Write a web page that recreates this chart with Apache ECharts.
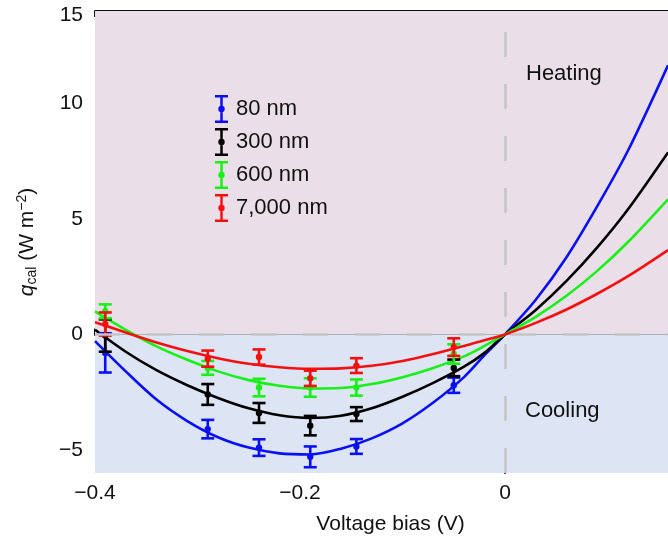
<!DOCTYPE html>
<html><head><meta charset="utf-8">
<script src="https://cdn.jsdelivr.net/npm/echarts@6/dist/echarts.min.js"></script>
<style>html,body{margin:0;padding:0;background:#fff}#c{width:668px;height:540px}</style>
</head><body><div id="c"></div>
<script>
// ---- data ----
const seriesNames = ['80 nm', '300 nm', '600 nm', '7,000 nm'];
const seriesColors = ['#0a10f5', '#000000', '#18f018', '#f51010'];

// fitted curves
const fitX     = [-0.4, -0.37, -0.34, -0.31, -0.28, -0.25, -0.22, -0.19, -0.16, -0.13, -0.1, -0.07, -0.04, -0.02, 0, 0.03, 0.06, 0.09, 0.12, 0.159];
const fitBlue  = [-0.29, -1.6, -2.82, -3.75, -4.45, -4.9, -5.15, -5.2, -4.95, -4.5, -3.85, -2.95, -1.85, -0.9, 0, 1.5, 3.34, 5.55, 7.96, 11.65];
const fitBlack = [0.2, -0.75, -1.55, -2.2, -2.75, -3.2, -3.5, -3.62, -3.52, -3.2, -2.7, -2.1, -1.4, -0.8, 0, 1.06, 2.32, 3.77, 5.42, 7.88];
const fitGreen = [1.0, 0.2, -0.52, -1.1, -1.6, -1.98, -2.22, -2.34, -2.32, -2.15, -1.85, -1.45, -0.95, -0.5, 0, 0.76, 1.67, 2.75, 4.0, 5.85];
const fitRed   = [0.53, 0.08, -0.35, -0.72, -1.03, -1.27, -1.42, -1.49, -1.47, -1.36, -1.15, -0.85, -0.5, -0.25, 0, 0.5, 1.08, 1.76, 2.52, 3.65];

// measured points with error bars
const ptX      = [-0.39, -0.29, -0.24, -0.19, -0.145, -0.05];
const ptBlue   = [-0.8, -4.1, -4.9, -5.3, -4.85, -2.2];
const errBlue  = [0.85, 0.4, 0.36, 0.45, 0.32, 0.33];
const ptBlack  = [-0.05, -2.6, -3.4, -3.95, -3.45, -1.45];
const errBlack = [0.7, 0.45, 0.43, 0.42, 0.3, 0.36];
const ptGreen  = [1.0, -1.45, -2.3, -2.3, -2.3, -0.85];
const errGreen = [0.3, 0.3, 0.38, 0.4, 0.35, 0.42];
const ptRed    = [0.45, -1.05, -0.98, -1.9, -1.35, -0.55];
const errRed   = [0.5, 0.35, 0.33, 0.33, 0.32, 0.38];

// axes
const xMin = -0.4, xMax = 0.159, yMin = -6, yMax = 14;
const xTickValues = [-0.4, -0.2, 0];
const xTickLabels = ['\u22120.4', '\u22120.2', '0'];
const yTickValues = [-5, 0, 5, 10];
const yLabelValues = [-5, 0, 5, 10, 14];
const yTickLabels = ['\u22125', '0', '5', '10', '15'];

// ---- chart ----
const FONT = 'Liberation Sans, Arial, Helvetica, sans-serif';
const fits = [fitBlue, fitBlack, fitGreen, fitRed];
const pts = [ptBlue, ptBlack, ptGreen, ptRed];
const errs = [errBlue, errBlack, errGreen, errRed];

const iconPath = 'path://M0,0H13V2.6H0Z M5.25,0H7.75V28H5.25Z M0,25.4H13V28H0Z M3.3,14A3.2,3.2 0 1 1 9.7,14A3.2,3.2 0 1 1 3.3,14Z';

function renderErr(params, api) {
  const x = api.value(0), y = api.value(1), e = api.value(2);
  const t = api.coord([x, y + e]), b = api.coord([x, y - e]), m = api.coord([x, y]);
  const w = 6.5;
  const c = api.visual('color');
  const st = { stroke: c, lineWidth: 2.6, fill: null };
  return { type: 'group', children: [
    { type: 'line', shape: { x1: t[0], y1: t[1], x2: b[0], y2: b[1] }, style: st },
    { type: 'line', shape: { x1: t[0] - w, y1: t[1], x2: t[0] + w, y2: t[1] }, style: st },
    { type: 'line', shape: { x1: b[0] - w, y1: b[1], x2: b[0] + w, y2: b[1] }, style: st },
    { type: 'circle', shape: { cx: m[0], cy: m[1], r: 3.2 }, style: { fill: c } }
  ]};
}

const series = [{
  type: 'line', data: [], silent: true, z: 0,
  markArea: { silent: true, data: [
    [{ yAxis: 0, itemStyle: { color: '#eadfe8' } }, { yAxis: yMax }],
    [{ yAxis: yMin, itemStyle: { color: '#dde4f4' } }, { yAxis: 0 }]
  ]},
  markLine: { silent: true, symbol: 'none', label: { show: false },
    lineStyle: { color: '#c4c4c4', width: 2.5, type: [25, 27] },
    data: [{ yAxis: 0 }, { xAxis: 0 }] }
}];
seriesNames.forEach((n, i) => {
  series.push({
    name: n, type: 'line', smooth: 0.3, showSymbol: false, z: 3,
    lineStyle: { width: 2.6, color: seriesColors[i] }, itemStyle: { color: seriesColors[i] },
    data: fitX.map((x, k) => [x, fits[i][k]])
  });
});
seriesNames.forEach((n, i) => {
  series.push({
    name: n, type: 'custom', z: 4, renderItem: renderErr,
    itemStyle: { color: seriesColors[i] },
    encode: { x: 0, y: 1 },
    data: ptX.map((x, k) => [x, pts[i][k], errs[i][k]])
  });
});

const chart = echarts.init(document.getElementById('c'), null, { renderer: 'canvas' });
chart.setOption({
  animation: false,
  backgroundColor: '#ffffff',
  textStyle: { fontFamily: FONT },
  grid: { left: 95, top: 11, right: 0, bottom: 66 },
  legend: {
    orient: 'vertical', left: 210, top: 90, itemWidth: 13, itemHeight: 28, itemGap: 5,
    textStyle: { fontSize: 22, color: '#111', fontFamily: FONT, padding: [0, 0, 0, 3] },
    data: seriesNames.map(n => ({ name: n, icon: iconPath }))
  },
  xAxis: [{
    type: 'value', min: xMin, max: xMax, position: 'bottom',
    name: 'Voltage bias (V)', nameLocation: 'middle', nameGap: 41,
    nameTextStyle: { fontSize: 21, color: '#111', fontFamily: FONT, padding: [0, 0, 0, 18] },
    axisLine: { lineStyle: { color: '#111', width: 2 } },
    axisTick: { inside: true, length: 6, lineStyle: { color: '#111', width: 2 }, customValues: xTickValues },
    axisLabel: { fontSize: 21, color: '#111', margin: 10, fontFamily: FONT, customValues: xTickValues,
      formatter: v => xTickLabels[xTickValues.findIndex(t => Math.abs(t - v) < 1e-9)] },
    splitLine: { show: false }
  }, {
    type: 'value', min: xMin, max: xMax, position: 'top',
    axisLine: { show: true, lineStyle: { color: '#111', width: 2 } },
    axisTick: { inside: true, length: 6, lineStyle: { color: '#111', width: 2 }, customValues: xTickValues },
    axisLabel: { show: false }, splitLine: { show: false }
  }],
  yAxis: {
    type: 'value', min: yMin, max: yMax,
    name: '{q|q}{sub|cal}{n| (W m}{sup|\u22122}{n|)}', nameLocation: 'middle', nameGap: 56,
    nameTextStyle: { color: '#111', fontFamily: FONT, rich: {
      q: { fontSize: 21, fontStyle: 'italic', fontFamily: FONT, color: '#111' },
      sub: { fontSize: 14, fontFamily: FONT, color: '#111', padding: [10, 0, 0, 0] },
      n: { fontSize: 21, fontFamily: FONT, color: '#111' },
      sup: { fontSize: 14, fontFamily: FONT, color: '#111', padding: [0, 0, 10, 0] }
    }},
    axisLine: { show: true, lineStyle: { color: '#111', width: 2 } },
    axisTick: { show: true, inside: true, length: 6, lineStyle: { color: '#111', width: 2 }, customValues: yTickValues },
    axisLabel: { fontSize: 21, color: '#111', margin: 12, fontFamily: FONT, customValues: yLabelValues,
      formatter: v => {
        const s = yTickLabels[yLabelValues.findIndex(t => Math.abs(t - v) < 1e-9)];
        return v === yMax ? '{t|' + s + '}' : s;
      },
      rich: { t: { fontSize: 21, color: '#111', fontFamily: FONT, padding: [8, 0, 0, 0] } }
    },
    splitLine: { show: false }
  },
  graphic: [
    { type: 'text', left: 526, top: 63, z: 10, style: { text: 'Heating', font: '22px ' + FONT, fill: '#111' } },
    { type: 'text', left: 525, top: 400, z: 10, style: { text: 'Cooling', font: '22px ' + FONT, fill: '#111' } }
  ],
  series: series
});
</script></body></html>
